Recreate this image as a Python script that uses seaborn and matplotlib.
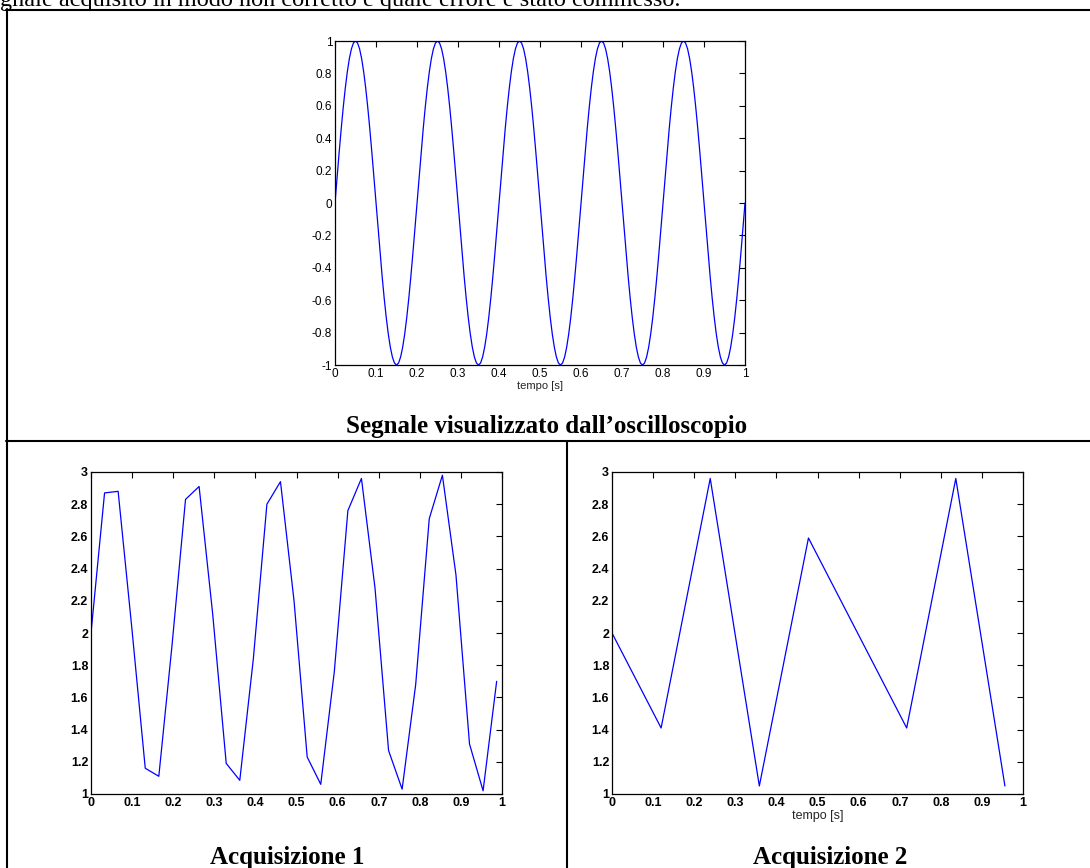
import numpy as np
import pandas as pd
import matplotlib
matplotlib.use("Agg")
import matplotlib.pyplot as plt
from matplotlib.lines import Line2D
import seaborn as sns

# ---------------- data ----------------
# top: signal seen on the oscilloscope (0.005 s step)
osc_t = np.linspace(0.0, 1.0, 201)
osc_v = [
    0, .156, .309, .454, .588, .707, .809, .891, .951, .988, 1, .988, .951, .891, .809, .707, .588, .454, .309, .156,
    0, -.156, -.309, -.454, -.588, -.707, -.809, -.891, -.951, -.988, -1, -.988, -.951, -.891, -.809, -.707, -.588, -.454, -.309, -.156,
    0, .156, .309, .454, .588, .707, .809, .891, .951, .988, 1, .988, .951, .891, .809, .707, .588, .454, .309, .156,
    0, -.156, -.309, -.454, -.588, -.707, -.809, -.891, -.951, -.988, -1, -.988, -.951, -.891, -.809, -.707, -.588, -.454, -.309, -.156,
    0, .156, .309, .454, .588, .707, .809, .891, .951, .988, 1, .988, .951, .891, .809, .707, .588, .454, .309, .156,
    0, -.156, -.309, -.454, -.588, -.707, -.809, -.891, -.951, -.988, -1, -.988, -.951, -.891, -.809, -.707, -.588, -.454, -.309, -.156,
    0, .156, .309, .454, .588, .707, .809, .891, .951, .988, 1, .988, .951, .891, .809, .707, .588, .454, .309, .156,
    0, -.156, -.309, -.454, -.588, -.707, -.809, -.891, -.951, -.988, -1, -.988, -.951, -.891, -.809, -.707, -.588, -.454, -.309, -.156,
    0, .156, .309, .454, .588, .707, .809, .891, .951, .988, 1, .988, .951, .891, .809, .707, .588, .454, .309, .156,
    0, -.156, -.309, -.454, -.588, -.707, -.809, -.891, -.951, -.988, -1, -.988, -.951, -.891, -.809, -.707, -.588, -.454, -.309, -.156,
    0,
]

# Acquisizione 1
acq1_t = [0.000, 0.033, 0.066, 0.099, 0.132, 0.165, 0.197, 0.230, 0.263, 0.296,
          0.329, 0.362, 0.395, 0.428, 0.461, 0.494, 0.526, 0.559, 0.592, 0.625,
          0.658, 0.691, 0.724, 0.757, 0.790, 0.823, 0.855, 0.888, 0.921, 0.954, 0.987]
acq1_v = [2.00, 2.87, 2.88, 2.04, 1.16, 1.11, 1.92, 2.83, 2.91, 2.12,
          1.19, 1.085, 1.84, 2.80, 2.94, 2.20, 1.23, 1.06, 1.76, 2.76,
          2.96, 2.28, 1.27, 1.03, 1.68, 2.71, 2.98, 2.36, 1.31, 1.02, 1.70]

# Acquisizione 2
acq2_t = [0.0, 0.1195, 0.239, 0.3585, 0.478, 0.5975, 0.717, 0.8365, 0.956]
acq2_v = [2.00, 1.41, 2.96, 1.05, 2.59, 2.00, 1.41, 2.96, 1.05]

x_ticks = [0, 0.1, 0.2, 0.3, 0.4, 0.5, 0.6, 0.7, 0.8, 0.9, 1]
top_yticks = [-1, -0.8, -0.6, -0.4, -0.2, 0, 0.2, 0.4, 0.6, 0.8, 1]
bot_yticks = [1, 1.2, 1.4, 1.6, 1.8, 2, 2.2, 2.4, 2.6, 2.8, 3]

intro_text = "gnale acquisito in modo non corretto e quale errore è stato commesso."
caption_top = "Segnale visualizzato dall\u2019oscilloscopio"
caption_1 = "Acquisizione 1"
caption_2 = "Acquisizione 2"
xlabel = "tempo [s]"

# ---------------- style ----------------
sns.set_theme(style="white")
plt.rcParams["font.family"] = ["Liberation Sans", "DejaVu Sans"]
plt.rcParams["axes.linewidth"] = 0.8

W, H = 1090, 868
fig = plt.figure(figsize=(W / 100, H / 100), dpi=100)
fig.patch.set_facecolor("white")


def px_axes(x0, y0, x1, y1):
    return fig.add_axes([x0 / W, 1 - y1 / H, (x1 - x0) / W, (y1 - y0) / H])


def fmt(v):
    return "%g" % v


def style_axes(ax, yticks, ylim, size, weight):
    ax.set_xlim(0, 1)
    ax.set_ylim(*ylim)
    ax.set_xticks(x_ticks)
    ax.set_xticklabels([fmt(v) for v in x_ticks], fontsize=size, fontweight=weight, color="black")
    ax.set_yticks(yticks)
    ax.set_yticklabels([fmt(v) for v in yticks], fontsize=size, fontweight=weight, color="black")
    ax.tick_params(direction="in", top=True, right=True, length=4, width=0.8,
                   color="black", pad=2)
    for s in ax.spines.values():
        s.set_visible(True)
        s.set_color("black")
        s.set_linewidth(0.9)
    ax.set_facecolor("white")
    ax.grid(False)


# top plot
ax0 = px_axes(335, 41, 745, 365)
sns.lineplot(x=osc_t, y=osc_v, ax=ax0, color="#0000ff", linewidth=0.9,
             estimator=None, sort=False)
style_axes(ax0, top_yticks, (-1, 1), 8.5, "normal")
ax0.set_xlabel(xlabel, fontsize=8, labelpad=1)
ax0.set_ylabel("")

# bottom-left
ax1 = px_axes(91, 472, 502, 794)
sns.lineplot(x=acq1_t, y=acq1_v, ax=ax1, color="#0000ff", linewidth=0.9,
             estimator=None, sort=False)
style_axes(ax1, bot_yticks, (1, 3), 9, "bold")
ax1.set_xlabel("")
ax1.set_ylabel("")

# bottom-right
ax2 = px_axes(612, 472, 1023, 794)
sns.lineplot(x=acq2_t, y=acq2_v, ax=ax2, color="#0000ff", linewidth=0.9,
             estimator=None, sort=False)
style_axes(ax2, bot_yticks, (1, 3), 9, "bold")
ax2.set_xlabel(xlabel, fontsize=9, labelpad=1)
ax2.set_ylabel("")

# ---------------- document table frame ----------------
def hline(y, x0, x1):
    fig.add_artist(Line2D([x0 / W, x1 / W], [1 - y / H, 1 - y / H],
                          transform=fig.transFigure, color="black", linewidth=1.5))


def vline(x, y0, y1):
    fig.add_artist(Line2D([x / W, x / W], [1 - y0 / H, 1 - y1 / H],
                          transform=fig.transFigure, color="black", linewidth=1.5))


hline(10, 6, W + 5)
vline(7, 9, H + 5)
hline(441, 6, W + 5)
vline(566.5, 441, H + 5)

serif = ["Liberation Serif", "DejaVu Serif"]
fig.text(0 / W, 1 - 6 / H, intro_text, ha="left", va="baseline",
         fontsize=17.5, family=serif, color="black")
fig.text(547 / W, 1 - 433 / H, caption_top, ha="center", va="baseline",
         fontsize=18, fontweight="bold", family=serif, color="black")
fig.text(287 / W, 1 - 864 / H, caption_1, ha="center", va="baseline",
         fontsize=18, fontweight="bold", family=serif, color="black")
fig.text(830 / W, 1 - 864 / H, caption_2, ha="center", va="baseline",
         fontsize=18, fontweight="bold", family=serif, color="black")

fig.savefig("out.png", dpi=100, facecolor="white")
